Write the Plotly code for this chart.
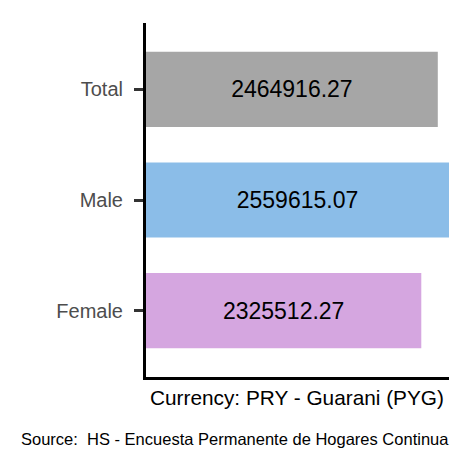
import plotly.graph_objects as go

# data
categories = ["Female", "Male", "Total"]
values = [2325512.27, 2559615.07, 2464916.27]
bar_colors = ["#D5A6E0", "#8BBDE8", "#A6A6A6"]
x_title = "Currency: PRY - Guarani (PYG)"
caption = "Source:  HS - Encuesta Permanente de Hogares Continua"

fig = go.Figure(
    go.Bar(
        y=categories,
        x=values,
        orientation="h",
        width=0.68,
        marker=dict(color=bar_colors, line=dict(width=0)),
        text=["%.2f" % v for v in values],
        textposition="inside",
        insidetextanchor="middle",
        textangle=0,
        textfont=dict(family="Liberation Sans, Arial", size=23, color="black"),
        hoverinfo="skip",
    )
)

# the page puts the figure 8px in from the corner, so size it to fit
fig.update_layout(
    width=464,
    height=464,
    margin=dict(l=138, r=23, t=15, b=94.5),
    paper_bgcolor="white",
    plot_bgcolor="white",
    showlegend=False,
    font=dict(family="Liberation Sans, Arial"),
)

fig.update_xaxes(
    range=[0, max(values)],
    showticklabels=False,
    ticks="",
    showgrid=False,
    zeroline=False,
    showline=True,
    linecolor="black",
    linewidth=3,
)

fig.update_yaxes(
    range=[-0.6, 2.6],
    showgrid=False,
    zeroline=False,
    showline=True,
    linecolor="black",
    linewidth=3,
    ticks="outside",
    ticklen=9,
    tickwidth=3,
    tickcolor="#333333",
    ticklabelstandoff=7,
    tickfont=dict(size=20, color="#4D4D4D"),
)

# x axis title
fig.add_annotation(
    text=x_title,
    xref="paper", yref="paper",
    x=0.497, y=-0.058,
    xanchor="center", yanchor="middle",
    showarrow=False,
    font=dict(size=20.8, color="black"),
)

# caption
fig.add_annotation(
    text=caption,
    xref="paper", yref="paper",
    x=-0.419, y=-0.174,
    xanchor="left", yanchor="middle",
    showarrow=False,
    font=dict(size=16.5, color="black"),
)

fig.write_html("out.html")
